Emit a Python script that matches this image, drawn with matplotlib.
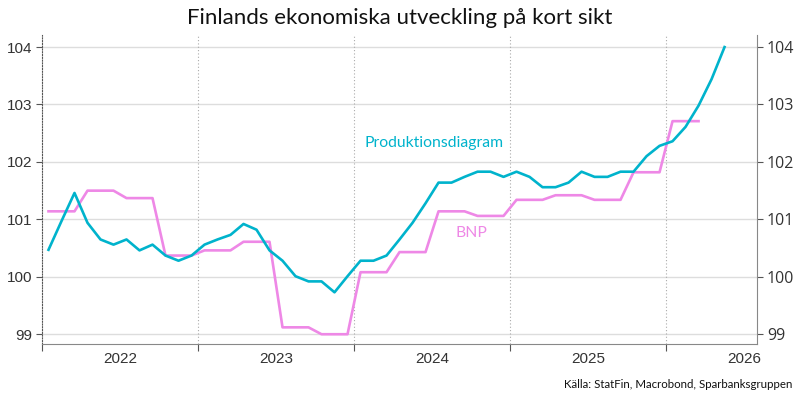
#!/usr/bin/env python3
"""Finlands ekonomiska utveckling på kort sikt - produktionsdiagram vs BNP."""
import numpy as np
import matplotlib
matplotlib.use("Agg")
import matplotlib.pyplot as plt
from matplotlib.ticker import FixedLocator, NullFormatter, FixedFormatter

# monthly values, first point = Jan 2022
prod = [100.47, 100.97, 101.46, 100.94, 100.65, 100.56, 100.65, 100.46, 100.56, 100.37,
        100.28, 100.37, 100.56, 100.65, 100.73, 100.92, 100.82, 100.46, 100.28, 100.01,
        99.92, 99.92, 99.73, 100.01, 100.28, 100.28, 100.37, 100.65, 100.94, 101.28,
        101.64, 101.64, 101.74, 101.83, 101.83, 101.74, 101.83, 101.74, 101.56, 101.56,
        101.64, 101.83, 101.74, 101.74, 101.83, 101.83, 102.10, 102.28, 102.36, 102.61,
        102.98, 103.44, 104.00]
bnp = [101.14, 101.14, 101.14, 101.50, 101.50, 101.50, 101.37, 101.37, 101.37, 100.37,
       100.37, 100.37, 100.46, 100.46, 100.46, 100.61, 100.61, 100.61, 99.12, 99.12,
       99.12, 99.00, 99.00, 99.00, 100.08, 100.08, 100.08, 100.43, 100.43, 100.43,
       101.14, 101.14, 101.14, 101.06, 101.06, 101.06, 101.34, 101.34, 101.34, 101.42,
       101.42, 101.42, 101.34, 101.34, 101.34, 101.82, 101.82, 101.82, 102.71, 102.71,
       102.71]
years = ["2022", "2023", "2024", "2025", "2026"]

CYAN = "#00b3cc"
PINK = "#ee88e6"

fig = plt.figure(figsize=(8, 4), dpi=100)
ax = fig.add_axes([0.0525, 0.14, 0.8938, 0.7725])

x_prod = np.arange(len(prod)) + 0.5
x_bnp = np.arange(len(bnp)) + 0.5
ax.plot(x_bnp, bnp, color=PINK, lw=1.9, zorder=3)
ax.plot(x_prod, prod, color=CYAN, lw=1.9, zorder=4)

ax.set_xlim(0, 55)
ax.set_ylim(98.83, 104.21)

# horizontal grid
for v in range(99, 105):
    ax.axhline(v, color="#dddddd", lw=1.0, zorder=1)
# year separators
for xv in [12, 24, 36, 48]:
    ax.axvline(xv, color="#aaaaaa", lw=0.8, ls=(0, (1, 2)), zorder=1)

ax.xaxis.set_major_locator(FixedLocator([0, 12, 24, 36, 48]))
ax.xaxis.set_major_formatter(NullFormatter())
ax.xaxis.set_minor_locator(FixedLocator([6, 18, 30, 42, 54]))
ax.xaxis.set_minor_formatter(FixedFormatter(years))
ax.tick_params(axis="x", which="major", length=5, color="#555555")
ax.tick_params(axis="x", which="minor", length=0, pad=6, labelsize=11, labelcolor="#333333")

ax.set_yticks(range(99, 105))
ax.tick_params(axis="y", length=4, color="#555555", labelsize=11, labelcolor="#333333",
               left=True, right=True, labelleft=True, labelright=True, pad=3)

ax.spines["top"].set_visible(False)
ax.spines["left"].set_linestyle((0, (1, 1.5)))
ax.spines["left"].set_color("#555555")
ax.spines["bottom"].set_color("#888888")
ax.spines["right"].set_color("#888888")

for lbl in ax.get_xticklabels(minor=True) + ax.get_yticklabels():
    lbl.set_family("Liberation Sans")
for t in ax.yaxis.get_major_ticks():
    t.label2.set_family("Open Sans")
    t.label2.set_fontsize(11.5)

ax.text(24.77, 102.33, "Produktionsdiagram", color=CYAN, fontsize=11.3,
        family="Lato", va="center", ha="left")
ax.text(31.8, 100.77, "BNP", color=PINK, fontsize=11.3, family="Lato",
        va="center", ha="left")

fig.text(0.5, 0.955, "Finlands ekonomiska utveckling på kort sikt", ha="center",
         va="center", fontsize=16, family="Lato", color="#111111")
fig.text(0.99, 0.04, "Källa: StatFin, Macrobond, Sparbanksgruppen", ha="right",
         va="center", fontsize=8.3, family="Lato", color="#111111")

fig.savefig("out.png", dpi=100)
